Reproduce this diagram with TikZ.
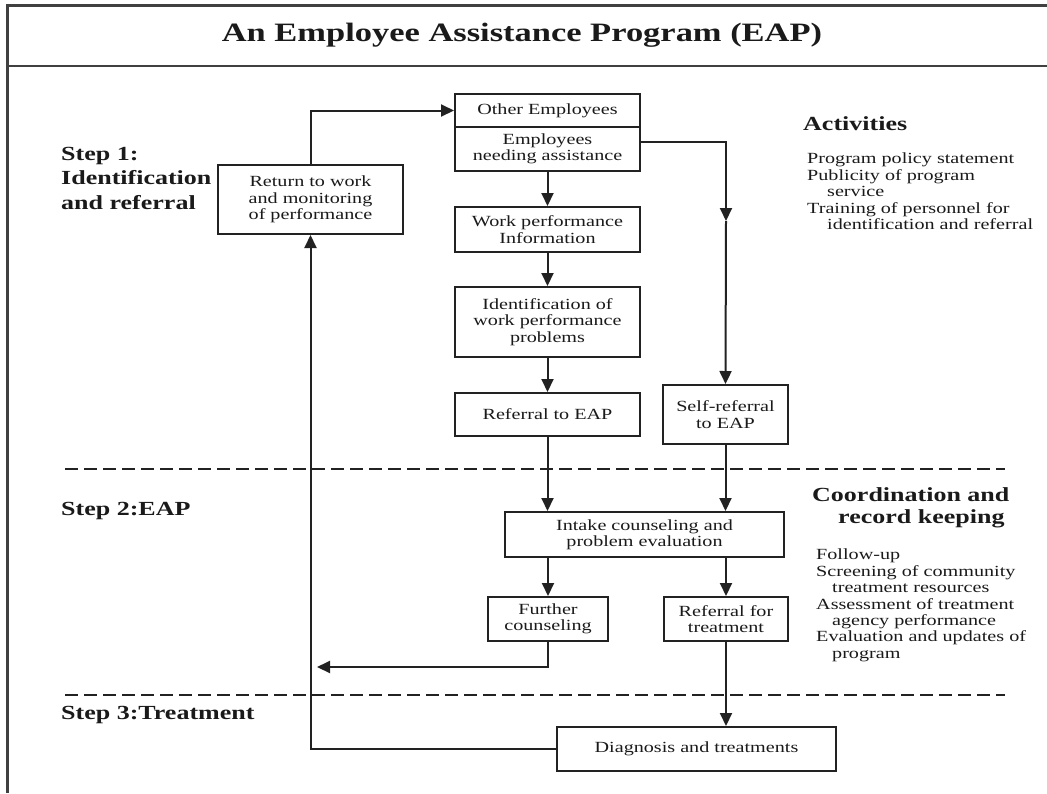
\documentclass[tikz,border=0pt]{standalone}
\usepackage{fontspec}
\setmainfont{Liberation Serif}[FakeStretch=1.3]
\usepackage{xcolor}
\usetikzlibrary{arrows.meta}

\definecolor{inkline}{HTML}{222222}
\definecolor{inktext}{HTML}{1A1A1A}

\newcommand{\boxfont}{\fontsize{15.5}{16.4}\selectfont}
\newcommand{\headfont}{\fontsize{20}{24.5}\selectfont\bfseries}

\tikzset{
  stagebox/.style={draw=inkline, line width=2pt, inner sep=0pt, align=center,
    text=inktext, font=\boxfont, minimum width=185pt},
  arr/.style={draw=inkline, line width=2pt, -{Triangle[length=13pt,width=12pt]}},
  dashline/.style={draw=inkline, line width=2.4pt, dash pattern=on 13pt off 6pt},
  sidetext/.style={anchor=north west, align=left, inner sep=0pt, text=inktext, font=\boxfont},
  headtext/.style={align=left, inner sep=0pt, text=inktext, font=\headfont}
}

\begin{document}
\begin{tikzpicture}[x=1pt,y=-1pt]
\useasboundingbox (0,0) rectangle (1047,793);
\fill[white] (0,0) rectangle (1047,793);

% frame and title band
\draw[black!75, line width=3pt] (7,793) -- (7,5) -- (1047,5);
\draw[black!75, line width=2.6pt] (7,66) -- (1047,66);
\node[text=inktext, font=\fontsize{26.5}{30}\selectfont\bfseries] (title) at (522,35) {An Employee Assistance Program (EAP)};

% step separators
\draw[dashline] (65,469) -- (1005,469);
\draw[dashline] (65,695) -- (1005,695);

% step labels
\node[headtext, anchor=north west] (step1) at (61,147) {Step 1:\\Identification\\and referral};
\node[headtext, anchor=west] (step2) at (61,511) {Step 2:EAP};
\node[headtext, anchor=west] (step3) at (61,715) {Step 3:Treatment};

% step 1 boxes
\node[stagebox, minimum height=33pt] (others) at (547.5,110.5) {Other Employees};
\node[stagebox, minimum height=44pt] (needing) at (547.5,149) {Employees\\needing assistance};
\node[stagebox, minimum height=69pt] (returnwork) at (310.5,199.5) {Return to work\\and monitoring\\of performance};
\node[stagebox, minimum height=45pt] (workinfo) at (547.5,229.5) {Work performance\\Information};
\node[stagebox, minimum height=70pt] (identify) at (547.5,322) {Identification of\\work performance\\problems};
\node[stagebox, minimum height=43pt] (referral) at (547.5,414.5) {Referral to EAP};
\node[stagebox, minimum height=59pt, minimum width=125pt] (selfref) at (725.5,414.5) {Self-referral\\to EAP};

% step 2 boxes
\node[stagebox, minimum height=45pt, minimum width=279pt] (intake) at (644.5,534.5) {Intake counseling and\\problem evaluation};
\node[stagebox, minimum height=44pt, minimum width=120pt] (further) at (548,619) {Further\\counseling};
\node[stagebox, minimum height=44pt, minimum width=124pt] (reftreat) at (726,619) {Referral for\\treatment};

% step 3 box
\node[stagebox, minimum height=44pt, minimum width=279pt] (diagnosis) at (696.5,749) {Diagnosis and treatments};

% side notes
\node[headtext, anchor=west] (acthead) at (803,124) {Activities};
\node[sidetext] (actlist) at (807,153) {Program policy statement\\Publicity of program\\\hspace*{20pt}service\\Training of personnel for\\\hspace*{20pt}identification and referral};
\node[headtext, anchor=north west, font=\fontsize{20}{22}\selectfont\bfseries] (coordhead) at (812,487) {Coordination and\\\hspace*{26pt}record keeping};
\node[sidetext] (coordlist) at (816,549) {Follow-up\\Screening of community\\\hspace*{16pt}treatment resources\\Assessment of treatment\\\hspace*{16pt}agency performance\\Evaluation and updates of\\\hspace*{16pt}program};

% connectors
\coordinate (selfmid) at (726,221);
\coordinate (backtip) at (317,667);
\draw[arr] (returnwork.north) |- (others.west);
\draw[arr] (needing.south) -- (workinfo.north);
\draw[arr] (workinfo.south) -- (identify.north);
\draw[arr] (identify.south) -- (referral.north);
\draw[arr] ([yshift=7pt]needing.east) -| (selfmid);
\draw[arr] (selfmid) -- (selfref.north);
\draw[arr] (referral.south) -- (referral.south |- intake.north);
\draw[arr] (selfref.south) -- (selfref.south |- intake.north);
\draw[arr] (intake.south -| further.north) -- (further.north);
\draw[arr] (intake.south -| reftreat.north) -- (reftreat.north);
\draw[arr] (further.south) |- (backtip);
\draw[arr] (reftreat.south) -- (reftreat.south |- diagnosis.north);
\draw[arr] (diagnosis.west) -| (returnwork.south);
\end{tikzpicture}
\end{document}
